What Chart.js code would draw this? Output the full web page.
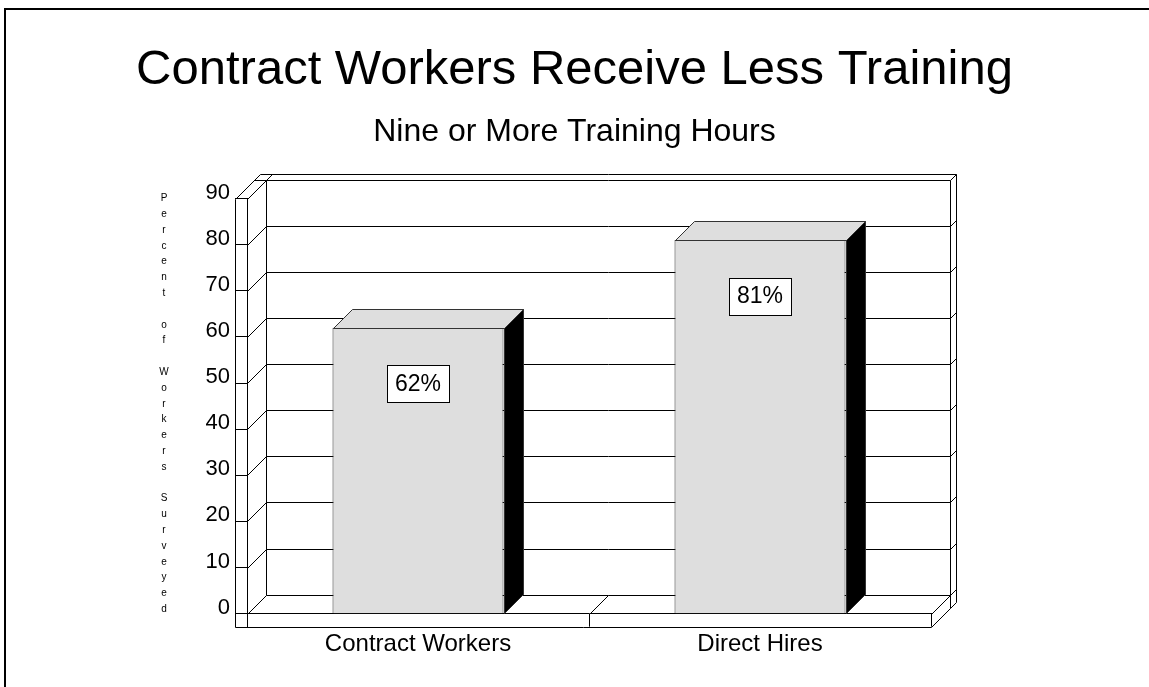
<!DOCTYPE html>
<html>
<head>
<meta charset="utf-8">
<script src="https://cdn.jsdelivr.net/npm/chart.js@4.4.1/dist/chart.umd.min.js"></script>
<style>
  body { margin: 0; background: #fff; }
  canvas { display: block; }
</style>
</head>
<body>
<canvas id="barChart" width="1149" height="687"></canvas>
<script>
// chart data
const categories = ['Contract Workers', 'Direct Hires'];
const percentValues = [62, 81];
const yTicks = [0, 10, 20, 30, 40, 50, 60, 70, 80, 90];
const titleText = 'Contract Workers Receive Less Training';
const subtitleText = 'Nine or More Training Hours';
const yAxisTitle = 'Percent of Workers Surveyed';

const FONT = '"Liberation Sans", Arial, Helvetica, sans-serif';
const depth = 19;   // 3d depth of walls and bars
const wallT = 6;    // back wall thickness
const frontT = 12;  // left wall front face width
const floorT = 13;  // floor slab thickness

function px(v) { return Math.round(v) + 0.5; }
function seg(ctx, x0, y0, x1, y1) {
  ctx.beginPath();
  ctx.moveTo(px(x0), px(y0));
  ctx.lineTo(px(x1), px(y1));
  ctx.stroke();
}

const box3d = {
  id: 'box3d',
  beforeDraw(chart) {
    const ctx = chart.ctx;
    // page frame (top and left only)
    ctx.save();
    ctx.fillStyle = '#000';
    ctx.fillRect(5, 8, chart.width - 5, 2);
    ctx.fillRect(4, 8, 2, chart.height - 8);
    ctx.restore();
  },
  beforeDatasetsDraw(chart) {
    const {ctx, chartArea: a, scales: {x, y}} = chart;
    const top = y.getPixelForValue(yTicks[yTicks.length - 1]);
    const bot = y.getPixelForValue(0);
    const bx0 = a.left + depth, bx1 = a.right + depth;
    const yb = v => y.getPixelForValue(v) - depth;
    const fl = a.left - frontT;
    const floorB = a.bottom + floorT;
    ctx.save();
    ctx.strokeStyle = '#000';
    ctx.lineWidth = 1;

    // back wall grid, left wall diagonals, right edge slivers
    yTicks.forEach(v => {
      seg(ctx, bx0, yb(v), bx1, yb(v));
      seg(ctx, a.left, y.getPixelForValue(v), bx0, yb(v));
      seg(ctx, bx1, yb(v), bx1 + wallT, yb(v) - wallT);
    });
    const ybTop = yb(yTicks[yTicks.length - 1]);
    seg(ctx, bx0, ybTop, bx0, yb(0));
    seg(ctx, bx1, ybTop, bx1, yb(0) + floorT);
    seg(ctx, bx1 + wallT, ybTop - wallT, bx1 + wallT, yb(0) + floorT - wallT);
    seg(ctx, bx1 + wallT, yb(0) + floorT - wallT, bx1, yb(0) + floorT);

    // top strip of back wall + top of left wall
    seg(ctx, fl + depth + wallT, ybTop - wallT, bx1 + wallT, ybTop - wallT);
    seg(ctx, bx0, ybTop, bx0 + wallT, ybTop - wallT);
    seg(ctx, fl + depth, ybTop, bx0, ybTop);
    seg(ctx, fl, top, fl + depth + wallT, ybTop - wallT);

    // left wall front face
    seg(ctx, fl, top, fl, floorB);
    seg(ctx, a.left, bot, a.left, floorB);

    // floor slab
    seg(ctx, fl, floorB, a.right, floorB);
    seg(ctx, a.right, a.bottom, bx1, yb(0));
    seg(ctx, a.right, floorB, bx1, yb(0) + floorT);
    for (let i = 0; i < categories.length - 1; i++) {
      const xb = (x.getPixelForValue(i) + x.getPixelForValue(i + 1)) / 2;
      seg(ctx, xb, a.bottom, xb + depth, yb(0));
    }
    ctx.restore();
  },
  afterDatasetsDraw(chart) {
    const ctx = chart.ctx;
    const meta = chart.getDatasetMeta(0);
    ctx.save();
    ctx.lineWidth = 1;
    ctx.strokeStyle = '#333';
    meta.data.forEach((bar, i) => {
      const x0 = Math.round(bar.x - bar.width / 2) + 0.5;
      const x1 = Math.round(bar.x + bar.width / 2) + 0.5;
      const yt = Math.round(bar.y) + 0.5;
      const yB = Math.round(bar.base) + 0.5;
      // top face
      ctx.beginPath();
      ctx.moveTo(x0, yt);
      ctx.lineTo(x0 + depth, yt - depth);
      ctx.lineTo(x1 + depth, yt - depth);
      ctx.lineTo(x1, yt);
      ctx.closePath();
      ctx.fillStyle = '#dedede';
      ctx.fill();
      ctx.stroke();
      // side face
      ctx.beginPath();
      ctx.moveTo(x1, yt);
      ctx.lineTo(x1 + depth, yt - depth);
      ctx.lineTo(x1 + depth, yB - depth);
      ctx.lineTo(x1, yB);
      ctx.closePath();
      ctx.fillStyle = '#000';
      ctx.fill();
      ctx.stroke();

      // value label box
      const bw = 62, bh = 37;
      const cy = bar.y + 56;
      ctx.fillStyle = '#fff';
      ctx.fillRect(Math.round(bar.x - bw / 2), Math.round(cy - bh / 2), bw, bh);
      ctx.strokeStyle = '#000';
      ctx.strokeRect(Math.round(bar.x - bw / 2) + 0.5, Math.round(cy - bh / 2) + 0.5, bw, bh);
      ctx.strokeStyle = '#333';
      ctx.fillStyle = '#000';
      ctx.font = '23px ' + FONT;
      ctx.textAlign = 'center';
      ctx.textBaseline = 'middle';
      ctx.fillText(percentValues[i] + '%', bar.x, cy + 1);
    });
    ctx.restore();
  },
  afterDraw(chart) {
    // stacked vertical axis title
    const {ctx, chartArea: a, scales: {y}} = chart;
    const top = y.getPixelForValue(yTicks[yTicks.length - 1]);
    ctx.save();
    ctx.fillStyle = '#000';
    ctx.font = '10px ' + FONT;
    ctx.textAlign = 'center';
    ctx.textBaseline = 'middle';
    yAxisTitle.split('').forEach((ch, i) => {
      if (ch !== ' ') ctx.fillText(ch, a.left - 83, top + i * 15.8);
    });
    ctx.restore();
  }
};

new Chart(document.getElementById('barChart'), {
  type: 'bar',
  data: {
    labels: categories,
    datasets: [{
      data: percentValues,
      backgroundColor: '#dedede',
      borderColor: '#333',
      borderWidth: 1,
      barPercentage: 0.5,
      categoryPercentage: 1
    }]
  },
  plugins: [box3d],
  options: {
    responsive: false,
    animation: false,
    devicePixelRatio: 1,
    layout: { padding: { left: 0, right: 0, top: 0, bottom: 25.5 } },
    plugins: {
      legend: { display: false },
      tooltip: { enabled: false },
      title: {
        display: true,
        text: titleText,
        color: '#000',
        font: { family: FONT, size: 49, weight: 'normal', lineHeight: 1.2 },
        padding: { top: 41, bottom: 13 }
      },
      subtitle: {
        display: true,
        text: subtitleText,
        color: '#000',
        font: { family: FONT, size: 32, weight: 'normal', lineHeight: 1.2 },
        padding: { top: 0, bottom: 47.3 }
      }
    },
    scales: {
      x: {
        grid: { drawOnChartArea: false, drawTicks: true, tickLength: floorT, color: '#000', offset: true },
        border: { display: true, color: '#000' },
        ticks: { color: '#000', padding: 3, font: { family: FONT, size: 24 } }
      },
      y: {
        min: 0,
        max: 90,
        afterFit: s => { s.width = 247; },
        grid: { drawOnChartArea: false, drawTicks: true, tickLength: frontT, color: '#000' },
        border: { display: true, color: '#000' },
        ticks: { stepSize: 10, color: '#000', padding: 5, labelOffset: -6, font: { family: FONT, size: 22 } }
      },
      yRight: {
        position: 'right',
        display: true,
        afterFit: s => { s.width = 218; },
        grid: { display: false },
        border: { display: false },
        ticks: { display: false }
      }
    }
  }
});
</script>
</body>
</html>
